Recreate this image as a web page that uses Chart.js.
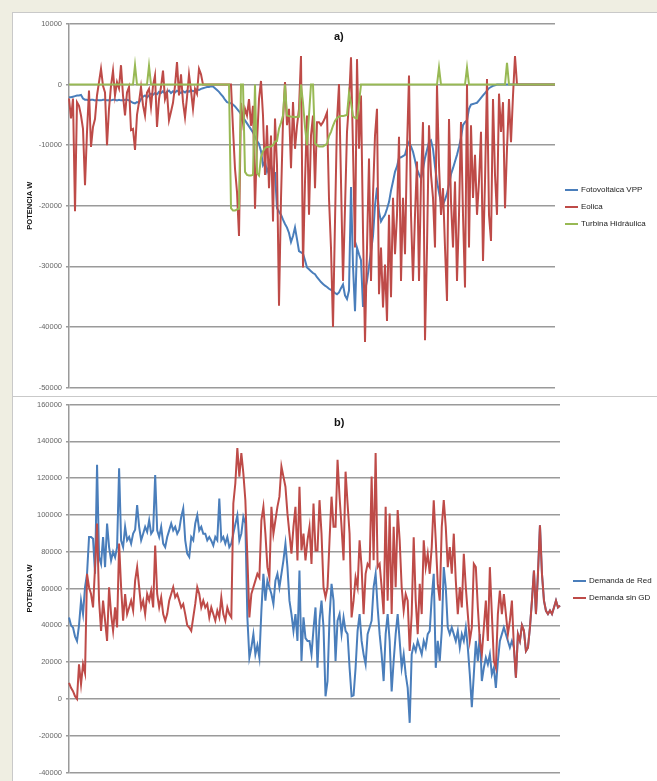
<!DOCTYPE html>
<html>
<head>
<meta charset="utf-8">
<script src="https://cdn.jsdelivr.net/npm/chart.js@4.4.1/dist/chart.umd.min.js"></script>
<style>
  html, body { margin: 0; padding: 0; }
  body { width: 657px; height: 781px; background: #efeee2; position: relative; overflow: hidden; font-family: "Liberation Sans", Arial, sans-serif; }
  .panel { position: absolute; left: 12px; width: 645px; height: 384px; background: #fff; border-top: 1px solid #c9c9c9; border-left: 1px solid #c9c9c9; box-sizing: border-box; }
  .panel canvas { position: absolute; left: -1px; top: -1px; }
  .tag { position: absolute; font-weight: bold; font-size: 11px; color: #111; }
  .legend { position: absolute; font-size: 8px; color: #222; white-space: nowrap; }
  .legend div { height: 17px; line-height: 17px; }
  .legend span { display: inline-block; width: 13px; height: 2px; vertical-align: middle; margin-right: 3px; }
</style>
</head>
<body>
<div class="panel" id="panelA" style="top:12px"><canvas id="chartA" width="645" height="384"></canvas>
  <div class="tag" style="left:321px; top:17px">a)</div>
  <div class="legend" id="legendA" style="left:552px; top:168px"></div>
</div>
<div class="panel" id="panelB" style="top:396px; height:385px"><canvas id="chartB" width="645" height="385"></canvas>
  <div class="tag" style="left:321px; top:19px">b)</div>
  <div class="legend" id="legendB" style="left:560px; top:175px"></div>
</div>
<script>
// a) potencia de generacion (W)
const fotovoltaica = [
  -2100,-2100,-2000,-1900,-1800,-1800,-1700,-2300,
  -2500,-2500,-2600,-2500,-2500,-2600,-2500,-2600,-2600,-2500,-2500,-2600,-2600,-2600,-2500,-2500,-2600,-2500,-2600,-2600,-2500,-2500,-2600,
  -2800,-3000,-3100,-2900,-3000,-2400,-2000,-1800,-2100,-1800,
  -1500,-1700,-1400,-1600,-1200,-1400,-1100,-1500,-1200,-1000,
  -1400,-1100,-1300,-1000,-1200,-1400,-1100,-1300,-1000,-1200,
  -900,-1100,-1000,-800,-900,-700,-600,-500,-400,-400,
  -300,-300,-600,-900,-1200,-1600,-2000,-2500,-2900,-3000,
  -3100,-3300,-3600,-4000,-4400,-4900,-5400,-5900,-6400,-6900,
  -7400,-7900,-8600,-9300,-9800,-11000,-13300,-12700,-14400,-13500,
  -13300,-14600,-14600,-20400,-21000,-21500,-22300,-23000,-23600,-24500,
  -26000,-25000,-23600,-25500,-27500,-27700,-27900,-29000,-30200,-30500,
  -30800,-31100,-31300,-31800,-32200,-32600,-32900,-33200,-33400,-33700,
  -33900,-34100,-34400,-34600,-34300,-33600,-33000,-34800,-35400,-34000,
  -16900,-30000,-37400,-26900,-28000,-29000,-36700,-34000,-32400,-30000,
  -27500,-25000,-20000,-17000,-21000,-22600,-22000,-21500,-20500,-19400,
  -17500,-16000,-14400,-13500,-12100,-12000,-11800,-11600,-10300,-9500,
  -10200,-11100,-12500,-14000,-14800,-15500,-14000,-12100,-10800,-9500,
  -9200,-10600,-13500,-16000,-17800,-19500,-19800,-19000,-18000,-16500,
  -14800,-13800,-12700,-11600,-10300,-8800,-6700,-6200,-5900,-4000,
  -3300,-3200,-3100,-3000,-2600,-2200,-1800,-1400,-1000,-600,
  -400,-200,-100,0,
  0,0,0,0,0,0,0,0,0,0,0,0,0,0,0,0,0,0,0,0,0,0,0,0,0,0,0,0,0
];
const eolica = [
  -2300,-5600,-2300,-20900,-2900,-3500,-5100,-7300,-16600,-7800,
  -1000,-10300,-7000,-5700,-1800,400,2600,-200,-1300,-10000,
  -4000,-200,2300,-1800,400,-600,3200,-1800,-5100,-1300,
  -400,-7500,-7300,-10800,-5000,-2900,-400,-3400,-5100,-1300,
  -700,-3700,-200,1500,-7000,-2400,-400,2300,-2400,-1300,
  -5900,-4500,-3000,-200,3700,-1800,1700,-2900,-5400,-2100,
  1700,-1000,-4000,-700,-1500,2600,1700,0,0,0,
  0,0,0,0,0,0,0,0,0,0,
  0,0,-7300,-13900,-17700,-25000,-3000,-6300,-4000,-5100,
  -2400,-6800,-3500,-20500,-9500,-2400,600,-5100,-14900,-6700,
  -17100,-8400,-22600,-5600,-13300,-36500,-18800,-6000,400,-6700,
  -4000,-13800,-2900,-10600,-6800,-4000,4700,-30200,-16000,-5100,
  -21500,-8400,-5100,-17100,-6200,-6200,-6700,-6200,-5500,-4600,
  -18800,-27000,-40000,-22600,-6000,100,-16000,-32400,-20400,-7800,
  -2900,4500,-10600,-26900,4200,-10600,-1800,-24200,-42500,-26900,
  -12200,-32400,-18200,-8400,-4000,-34600,-26900,-36800,-29700,-39000,
  -21500,-35100,-18700,-28000,-21500,-8600,-32400,-18700,-28000,-10600,
  1500,-21500,-32400,-21500,-12700,-32400,-16000,-6200,-42200,-26900,
  -6700,-14900,-18700,-26900,0,-13300,-21500,-17100,-26900,-35700,
  -5700,-19300,-26900,-16000,-32400,-21500,-6200,-21500,-33500,0,
  -26900,-6700,-18700,-11600,-21500,-16000,-7800,-29100,-16000,900,
  -21500,-25800,-2400,-14900,-21500,-1500,-7800,-2900,-20400,-10600,
  -2400,-9500,-1800,4700,0,
  0,0,0,0,0,0,0,0,0,0,0,0,0,0,0,0,0,0,0
];
const turbina = [
  0,0,0,0,0,0,0,0,0,0,
  0,0,0,0,0,0,0,0,0,0,
  0,0,0,0,0,0,0,0,0,0,
  0,0,0,3200,0,0,0,0,0,0,
  3100,0,0,0,0,0,0,0,0,0,
  0,0,0,0,0,0,0,0,0,0,
  0,0,0,0,0,0,0,0,0,0,
  0,0,0,0,0,0,0,0,0,0,
  0,-20400,-20800,-20800,-20600,-20500,0,0,-14400,-14900,
  -15000,-15000,-14900,0,-14600,-15000,-12000,-11000,-10500,-10300,
  -10300,-10200,-10000,-9400,-9300,-7300,-6300,-5100,0,-5100,
  -5200,-5300,-5300,-5400,-5300,-5300,0,-3000,-7000,-10000,
  -5000,0,0,-9700,-10000,-10200,-10200,-10200,-10000,-9800,
  -8500,-7800,-6800,-6000,-5500,-5300,-5200,-5200,-5100,-5000,
  -1400,-3000,-5200,-5500,-5600,-3000,0,0,0,0,
  0,0,0,0,0,0,0,0,0,0,
  0,0,0,0,0,0,0,0,0,0,
  0,0,0,0,0,0,0,0,0,0,
  0,0,0,0,0,2800,0,0,0,0,
  0,0,0,0,0,0,0,0,0,2800,
  0,0,0,0,0,0,0,0,0,0,
  0,0,0,0,0,0,0,0,0,3600,
  0,0,0,0,0,0,0,0,0,0,
  0,0,0,0,0,0,0,0,0,0,
  0,0,0,0
];

// b) demanda (W)
const demandaRed = [
  44300,40000,38800,34000,31500,40000,53400,46100,60700,68000,
  88000,88000,87000,68000,127200,77100,73400,88000,71600,95300,
  82500,75300,80000,77000,82500,125400,86000,82500,93500,86200,
  88000,84400,89800,92000,105300,93500,86200,89800,93500,90800,
  97100,89800,91600,121700,91600,88000,93500,84400,82500,88000,
  91600,95300,91600,93500,89800,92000,98900,103500,86200,78900,
  77100,88000,86200,95300,99800,91600,93500,89800,89800,86200,
  88000,86000,83400,88000,86200,108900,86200,88000,84400,88000,
  82500,84400,89800,95000,99800,86200,89800,98900,95300,44300,
  22400,27900,35200,24200,29100,22400,47900,68000,53400,64300,
  60700,57000,51600,64300,68000,60700,68000,75300,84400,71600,
  53400,46100,37000,46100,31500,69800,20600,44300,33000,31500,
  31500,24200,38000,49700,16900,42500,53400,38800,1400,9700,
  44300,62500,53400,20600,42500,46100,35200,44300,37000,35200,
  16900,1500,2000,16900,37000,46100,31500,24200,18800,35200,
  38800,42500,60700,68000,49700,35200,24200,9700,35200,46100,
  31500,4000,20600,35200,46100,31500,16900,24200,13300,6000,
  -13000,24200,29100,26000,31500,27900,24200,31500,27900,35200,
  37000,55200,68000,16900,31500,20600,37000,71600,60700,38800,
  35200,38800,35200,31500,37000,27900,35200,31500,38800,27900,
  13300,-4500,13300,31500,20600,35200,9700,16900,22400,18800,
  24200,13300,16900,6000,20600,31500,35200,38800,35200,31500,
  27900,31500,27900,
  11500,35200,31500,40000,37000,26000,27900,38800,53400,69800,
  46100,68000,94400,68000,53400,47900,46100,48000,46100,49700,
  53400,49700,50700
];
const demandaSinGD = [
  8700,6000,4200,1500,0,18800,8000,18800,14000,68000,
  60700,57000,49700,71600,95300,53400,37000,53400,42500,31500,
  60700,46100,37000,49700,38800,84400,60700,42500,57000,46100,
  49700,53400,48000,64300,71600,60700,49700,53400,46100,57000,
  53400,58800,49700,83400,57000,49700,55200,46100,42500,46100,
  53400,57000,60700,55200,57000,53400,49700,51600,46100,40000,
  38800,37000,44300,51600,60700,57000,49700,53400,49700,51600,
  44300,49700,46100,42500,48000,44300,55200,46100,42500,49700,
  46100,44300,106200,117200,136300,120800,133600,122600,108000,77100,
  44300,57000,60700,64300,68000,66000,97100,104400,89800,71600,
  66000,104400,89800,97100,104400,109900,126300,120800,115300,100800,
  89800,78900,93500,104400,75300,115300,80700,89800,75300,86200,
  93500,73400,106200,80700,80700,108000,89800,60700,55200,60700,
  86200,109900,93500,93500,129900,109900,93500,75300,123500,106200,
  89800,44300,53400,66000,60700,86200,71600,46100,68000,73400,
  71600,120800,75300,133600,71600,73400,60700,46100,104400,53400,
  100800,46100,93500,60700,102600,86200,60700,48000,57000,53400,
  26000,46100,87800,53400,35200,62500,46100,86200,71600,78900,
  68000,82500,108000,86200,62500,53400,93500,108000,93500,71600,
  82500,68000,89800,64300,46100,60700,49700,78900,60700,46100,
  31500,38800,73400,71600,49700,31500,24200,38800,53400,31500,
  71600,46100,20600,16900,46100,58800,46100,57000,46100,35200,
  42500,53400,27900,11500,35200,31500,40000,37000,26000,27900,
  38800,53400,69800,46100,68000,94400,68000,53400,47900,46100,
  48000,46100,49700,53400,49700,50700
];

const seriesA = [
  { label: "Fotovoltaica VPP", data: fotovoltaica, color: "#4a7ebb", order: 3 },
  { label: "Eolica", data: eolica, color: "#be4b48", order: 2 },
  { label: "Turbina Hidráulica", data: turbina, color: "#98b954", order: 1 }
];
const seriesB = [
  { label: "Demanda de Red", data: demandaRed, color: "#4a7ebb", order: 2 },
  { label: "Demanda sin GD", data: demandaSinGD, color: "#be4b48", order: 1 }
];

function buildLegend(id, series) {
  const box = document.getElementById(id);
  series.forEach(s => {
    const row = document.createElement("div");
    const swatch = document.createElement("span");
    swatch.style.background = s.color;
    row.appendChild(swatch);
    row.appendChild(document.createTextNode(s.label));
    box.appendChild(row);
  });
}

function makeChart(canvasId, series, yMin, yMax, step, padding) {
  const labels = series[0].data.map((_, i) => i + 1);
  return new Chart(document.getElementById(canvasId), {
    type: "line",
    data: {
      labels: labels,
      datasets: series.map(s => ({
        label: s.label,
        data: s.data,
        borderColor: s.color,
        backgroundColor: s.color,
        borderWidth: 2,
        pointRadius: 0,
        tension: 0,
        order: s.order
      }))
    },
    options: {
      responsive: false,
      animation: false,
      devicePixelRatio: 1,
      layout: { padding: padding },
      plugins: { legend: { display: false }, tooltip: { enabled: false } },
      scales: {
        x: { display: false },
        y: {
          min: yMin,
          max: yMax,
          afterFit: scale => { scale.width = 57; },
          border: { display: true, color: "#9a9a9a", width: 1.5 },
          grid: { color: "#9a9a9a", lineWidth: 1.5, tickLength: 3 },
          ticks: {
            stepSize: step,
            padding: 4,
            color: "#666",
            font: { family: "Liberation Sans", size: 7.5 },
            callback: v => String(v)
          },
          title: {
            display: true,
            text: "POTENCIA W",
            color: "#111",
            padding: { top: 13, bottom: 0 },
            font: { family: "Liberation Sans", size: 7.5, weight: "bold" }
          }
        }
      }
    }
  });
}

buildLegend("legendA", seriesA);
buildLegend("legendB", seriesB);
makeChart("chartA", seriesA, -50000, 10000, 10000, { left: 0, right: 102, top: 12, bottom: 4 });
makeChart("chartB", seriesB, -40000, 160000, 20000, { left: 0, right: 97, top: 5, bottom: 7 });
</script>
</body>
</html>
